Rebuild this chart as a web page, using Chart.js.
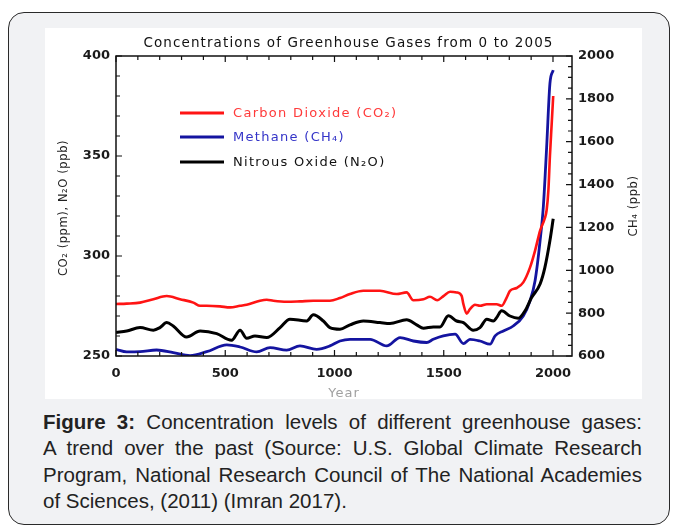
<!DOCTYPE html>
<html><head><meta charset="utf-8">
<script src="https://cdn.jsdelivr.net/npm/chart.js@4"></script>
<style>
html,body{margin:0;padding:0;background:#fff;width:673px;height:527px;overflow:hidden;}
#box{position:absolute;left:8px;top:12px;width:662px;height:513px;border:1.5px solid #2a2a2a;border-radius:16px;background:#f1f2f4;box-sizing:border-box;}
#panel{position:absolute;left:45px;top:28px;width:597px;height:371px;background:#fff;overflow:hidden;}
#panel canvas{display:block;}
#cap{position:absolute;left:43px;top:409px;width:599px;font-family:"Liberation Sans",Arial,sans-serif;font-size:20.5px;line-height:26.3px;color:#222;}
#cap div{text-align:justify;text-align-last:justify;white-space:nowrap;}
#cap div.last{text-align-last:left;}
</style></head>
<body>
<div id="box"></div>
<div id="panel"><canvas id="c" width="597" height="372"></canvas></div>
<div id="cap">
<div><b>Figure 3:</b> Concentration levels of different greenhouse gases:</div>
<div>A trend over the past (Source: U.S. Global Climate Research</div>
<div>Program, National Research Council of The National Academies</div>
<div class="last">of Sciences, (2011) (Imran 2017).</div>
</div>
<script>
const chartTitle = 'Concentrations of Greenhouse Gases from 0 to 2005';
const seriesNames = ['Carbon Dioxide (CO\u2082)', 'Methane (CH\u2084)', 'Nitrous Oxide (N\u2082O)'];
const leftAxisTitle = 'CO\u2082 (ppm), N\u2082O (ppb)';
const rightAxisTitle = 'CH\u2084 (ppb)';
const xAxisTitle = 'Year';

const co2Years = [0,49,110,171,232,293,354,385,415,476,522,568,598,659,690,720,781,842,903,979,1025,1071,1132,1208,1285,1330,1361,1407,1437,1470,1500,1529,1559,1582,1590,1605,1620,1643,1666,1697,1742,1765,1788,1803,1834,1864,1895,1918,1941,1963,1971,1979,1986,1994,2001];
const co2 = [276,276.2,276.7,278.4,280,278.4,276.7,275.1,275.1,274.8,274.3,275.1,275.6,277.6,278.1,277.6,277.1,277.3,277.6,277.6,279,281,282.6,282.6,281,281.8,277.9,278.4,279.6,277.9,280.1,282.1,281.8,280.1,275.9,271.2,273.4,275.6,275.1,275.9,275.9,275.1,279.2,282.6,284,286.8,294.3,302.7,312.7,319,323,333,350,366,380];

const ch4Years = [0,49,110,186,262,339,415,507,568,644,705,781,842,918,979,1025,1071,1163,1239,1300,1361,1422,1452,1498,1552,1590,1620,1666,1712,1735,1773,1818,1864,1895,1918,1941,1956,1971,1986,2001];
const ch4 = [631,619,620,628,616,602,620,652,642,619,639,627,647,631,647,670,678,678,647,686,670,663,678,694,702,658,678,670,655,694,717,740,787,858,951,1138,1300,1575,1872,1934];

const n2oYears = [0,49,110,171,201,232,262,323,385,461,529,568,598,636,690,751,796,873,903,949,979,1025,1071,1132,1208,1254,1330,1376,1407,1452,1483,1521,1559,1590,1635,1666,1697,1727,1742,1765,1803,1841,1872,1902,1941,1963,1986,2001];
const n2o = [261.7,262.5,264.2,262.9,264.2,266.7,265,259.5,262.5,261.2,257.9,262.9,258.9,260,259.2,264.2,268.4,267.5,270.6,267.5,264.2,263.4,265.6,267.5,266.7,266.2,268.1,265.6,263.9,264.5,264.5,270.1,267.5,266.7,262.9,264.2,268.4,267.5,269.2,272.6,270,268.9,272.6,279.2,286,294.3,307.7,318.6];

const xTicks = [0,500,1000,1500,2000];
const leftTicks = [250,300,350,400];
const rightTicks = [600,800,1000,1200,1400,1600,1800,2000];

const pts = (xs, ys) => xs.map((x, i) => ({x: x, y: ys[i]}));
const FONT = 'DejaVu Sans';

const framePlugin = {
  id: 'frame',
  afterDatasetsDraw(chart) {
    const ctx = chart.ctx, a = chart.chartArea;
    const sx = chart.scales.x, sy = chart.scales.y, sy2 = chart.scales.y2;
    ctx.save();
    ctx.strokeStyle = '#111';
    ctx.lineWidth = 1.5;
    ctx.strokeRect(a.left, a.top, a.right - a.left, a.bottom - a.top);
    ctx.lineWidth = 1.2;
    ctx.beginPath();
    for (let v = 0; v <= 2087; v += 100) {
      const p = sx.getPixelForValue(v), L = (v % 500 === 0) ? 6 : 4;
      ctx.moveTo(p, a.bottom); ctx.lineTo(p, a.bottom - L);
      ctx.moveTo(p, a.top); ctx.lineTo(p, a.top + L);
    }
    for (let v = 250; v <= 400; v += 10) {
      const p = sy.getPixelForValue(v), L = (v % 50 === 0) ? 6 : 4;
      ctx.moveTo(a.left, p); ctx.lineTo(a.left + L, p);
    }
    for (let v = 600; v <= 2000; v += 50) {
      const p = sy2.getPixelForValue(v), L = (v % 200 === 0) ? 6 : 4;
      ctx.moveTo(a.right, p); ctx.lineTo(a.right - L, p);
    }
    ctx.stroke();

    // title
    ctx.fillStyle = '#111';
    ctx.font = '13.5px "' + FONT + '"';
    ctx.letterSpacing = '1.1px';
    ctx.textAlign = 'center'; ctx.textBaseline = 'middle';
    ctx.fillText(chartTitle, 303.5, 15.5);

    // legend
    const lx0 = 135, lx1 = 179, ly = [85, 109, 134];
    const textCol = ['#ff3a3a', '#3434c8', '#111'];
    ctx.textAlign = 'left';
    ctx.font = '13px "' + FONT + '"';
    ctx.letterSpacing = '1.3px';
    chart.data.datasets.forEach((ds, i) => {
      ctx.strokeStyle = ds.borderColor;
      ctx.lineWidth = 3;
      ctx.beginPath(); ctx.moveTo(lx0, ly[i]); ctx.lineTo(lx1, ly[i]); ctx.stroke();
      ctx.fillStyle = textCol[i];
      ctx.fillText(ds.label, 188, ly[i] + 0.5);
    });

    // axis titles
    ctx.fillStyle = '#222';
    ctx.font = '11.5px "' + FONT + '"';
    ctx.letterSpacing = '0.6px';
    ctx.textAlign = 'center';
    ctx.save(); ctx.translate(19, 180); ctx.rotate(-Math.PI / 2); ctx.fillText(leftAxisTitle, 0, 0); ctx.restore();
    ctx.save(); ctx.translate(589, 178); ctx.rotate(-Math.PI / 2); ctx.fillText(rightAxisTitle, 0, 0); ctx.restore();
    ctx.fillStyle = '#a0a0a0';
    ctx.font = '13px "' + FONT + '"';
    ctx.letterSpacing = '1px';
    ctx.fillText(xAxisTitle, (a.left + a.right) / 2, 366);
    ctx.restore();
  }
};

const tickFont = {family: FONT, size: 13, weight: 'bold'};
const plain = v => String(v);
new Chart(document.getElementById('c'), {
  type: 'line',
  data: {
    datasets: [
      {label: seriesNames[0], data: pts(co2Years, co2), borderColor: '#ff1414', borderWidth: 2.6, yAxisID: 'y', order: 1},
      {label: seriesNames[1], data: pts(ch4Years, ch4), borderColor: '#1414a0', borderWidth: 2.8, yAxisID: 'y2', order: 2},
      {label: seriesNames[2], data: pts(n2oYears, n2o), borderColor: '#000000', borderWidth: 3, yAxisID: 'y', order: 0}
    ]
  },
  options: {
    responsive: false, animation: false,
    layout: {padding: {top: 28, left: 0, right: 0, bottom: 0}},
    elements: {point: {radius: 0}, line: {tension: 0.3, cubicInterpolationMode: 'monotone'}},
    plugins: {legend: {display: false}, title: {display: false}, tooltip: {enabled: false}},
    scales: {
      x: {type: 'linear', min: 0, max: 2087,
        afterBuildTicks: s => { s.ticks = xTicks.map(v => ({value: v})); },
        afterFit: s => { s.height = 44; },
        grid: {display: false, drawTicks: false}, border: {display: false},
        ticks: {padding: 10, font: tickFont, color: '#1a1a1a', maxRotation: 0, autoSkip: false, callback: plain}},
      y: {position: 'left', min: 250, max: 400,
        afterBuildTicks: s => { s.ticks = leftTicks.map(v => ({value: v})); },
        afterFit: s => { s.width = 71; },
        grid: {display: false, drawTicks: false}, border: {display: false},
        ticks: {padding: 6, font: tickFont, color: '#1a1a1a', autoSkip: false, callback: plain}},
      y2: {position: 'right', min: 600, max: 2000,
        afterBuildTicks: s => { s.ticks = rightTicks.map(v => ({value: v})); },
        afterFit: s => { s.width = 70; },
        grid: {display: false, drawTicks: false}, border: {display: false},
        ticks: {padding: 6, font: tickFont, color: '#1a1a1a', autoSkip: false, callback: plain}}
    }
  },
  plugins: [framePlugin]
});
</script>
</body></html>
